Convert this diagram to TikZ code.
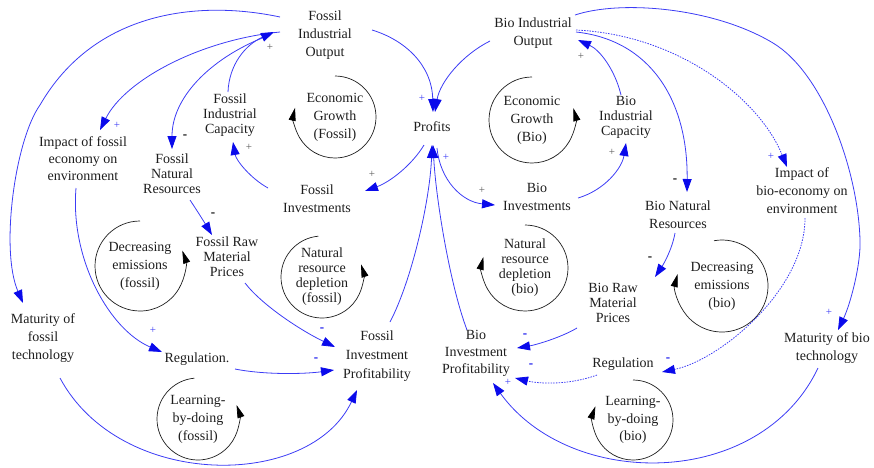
\documentclass[tikz,border=0pt]{standalone}
\usepackage{fontspec}
\setmainfont{Liberation Serif}
\usetikzlibrary{arrows.meta}
\definecolor{linkblue}{RGB}{60,60,245}
\definecolor{tipblue}{RGB}{10,10,235}
\definecolor{ink}{RGB}{30,30,30}
\definecolor{signgray}{RGB}{90,90,90}
\begin{document}
\begin{tikzpicture}[x=1pt,y=1pt,
  lbl/.style={align=center, inner sep=0pt, text=ink, font=\fontsize{14}{18}\selectfont},
  lblt/.style={align=center, inner sep=0pt, text=ink, font=\fontsize{14}{15}\selectfont},
  link/.style={draw=linkblue, line width=0.8pt, -{Triangle[length=13pt,width=9pt,color=tipblue]}},
  dotlink/.style={link, dash pattern=on 1.5pt off 1.2pt},
  loopline/.style={draw=ink, line width=0.7pt, -{Triangle[length=13pt,width=7pt,color=black]}},
  plusb/.style={text=linkblue, font=\fontsize{11}{11}\selectfont, inner sep=0pt},
  plusg/.style={text=signgray, font=\fontsize{11}{11}\selectfont, inner sep=0pt},
  minusk/.style={text=black, font=\bfseries\fontsize{13}{13}\selectfont, inner sep=0pt},
  minusb/.style={text=tipblue, font=\bfseries\fontsize{13}{13}\selectfont, inner sep=0pt}]
\useasboundingbox (0,0) rectangle (874,-467);

% ---- variables ----
\node[lbl]  (FIO) at (325,-35)  {Fossil\\Industrial\\Output};
\node[lbl]  (BIO) at (533,-33)  {Bio Industrial\\Output};
\node[lbl]  (PRO) at (432,-127) {Profits};
\node[lblt] (FIC) at (230,-115) {Fossil\\Industrial\\Capacity};
\node[lblt] (BIC) at (626,-117) {Bio\\Industrial\\Capacity};
\node[lbl,font=\fontsize{14}{17}\selectfont] (IFE) at (83,-159) {Impact of fossil\\economy on\\environment};
\node[lblt] (FNR) at (172,-174) {Fossil\\Natural\\Resources};
\node[lbl]  (FIN) at (317,-199) {Fossil\\Investments};
\node[lbl]  (BIN) at (537,-197) {Bio\\Investments};
\node[lbl]  (BNR) at (678,-215) {Bio Natural\\Resources};
\node[lbl]  (IBE) at (802,-191) {Impact of\\bio-economy on\\environment};
\node[lblt] (FRP) at (227,-257) {Fossil Raw\\Material\\Prices};
\node[lblt] (BRP) at (613,-303) {Bio Raw\\Material\\Prices};
\node[lbl]  (MFT) at (43,-338)  {Maturity of\\fossil\\technology};
\node[lbl]  (MBT) at (827,-348) {Maturity of bio\\technology};
\node[lbl]  (REF) at (197,-359) {Regulation.};
\node[lbl]  (REB) at (623,-364) {Regulation};
\node[lbl,font=\fontsize{14}{19}\selectfont] (FIP) at (377,-356) {Fossil\\Investment\\Profitability};
\node[lbl,font=\fontsize{14}{17}\selectfont] (BIP) at (476,-353) {Bio\\Investment\\Profitability};

% ---- loop labels ----
\node[lbl]  (EGF) at (335,-117) {Economic\\Growth\\(Fossil)};
\node[lbl]  (EGB) at (532,-120) {Economic\\Growth\\(Bio)};
\node[lbl]  (DEF) at (140,-266) {Decreasing\\emissions\\(fossil)};
\node[lblt] (NDF) at (322,-277) {Natural\\resource\\depletion\\(fossil)};
\node[lblt] (NDB) at (525,-268) {Natural\\resource\\depletion\\(bio)};
\node[lbl]  (DEB) at (722,-286) {Decreasing\\emissions\\(bio)};
\node[lbl]  (LDF) at (198,-419) {Learning-\\by-doing\\(fossil)};
\node[lbl,font=\fontsize{14}{17.5}\selectfont] (LDB) at (633,-420) {Learning-\\by-doing\\(bio)};

% ---- loop arrows ----
\draw[loopline] ([shift={(90:41pt)}]EGF.center) arc[start angle=90,end angle=-193,radius=41pt];
\draw[loopline] ([shift={(90:43pt)}]EGB.center) arc[start angle=90,end angle=376,radius=43pt];
\draw[loopline] ([shift={(90:45pt)}]DEF.center) arc[start angle=90,end angle=380,radius=45pt];
\draw[loopline] ([shift={(95:41pt)}]NDF.center) arc[start angle=95,end angle=378,radius=41pt];
\draw[loopline] ([shift={(90:43pt)}]NDB.center) arc[start angle=90,end angle=-195,radius=43pt];
\draw[loopline] ([shift={(100:46pt)}]DEB.center) arc[start angle=100,end angle=-195,radius=46pt];
\draw[loopline] ([shift={(95:41pt)}]LDF.center) arc[start angle=95,end angle=380,radius=41pt];
\draw[loopline] ([shift={(90:40pt)}]LDB.center) arc[start angle=90,end angle=-200,radius=40pt];

% ---- links, fossil side ----
\draw[link] ([shift={(47,5)}]FIO.center) .. controls (405,-40) and (432,-65) .. ([shift={(1,15)}]PRO.center);
\draw[link] ([shift={(-45,18)}]FIO.center) .. controls (200,0) and (95,-10) .. (40,-105)
            .. controls (15,-140) and (0,-250) .. ([shift={(-20,35)}]MFT.center);
\draw[link] ([shift={(-45,3)}]FIO.center) .. controls (200,-40) and (125,-80) .. ([shift={(17,29)}]IFE.center);
\draw[link] ([shift={(-55,0)}]FIO.center) .. controls (215,-55) and (172,-95) .. ([shift={(0,25)}]FNR.center);
\draw[link] ([shift={(-2,23)}]FIC.center) .. controls (229,-65) and (245,-45) .. ([shift={(-51,3)}]FIO.center);
\draw[link] ([shift={(-49,11)}]FIN.center) .. controls (250,-178) and (236,-160) .. ([shift={(3,-27)}]FIC.center);
\draw[link] ([shift={(-8,-18)}]PRO.center) .. controls (412,-165) and (390,-182) .. ([shift={(48,8)}]FIN.center);
\draw[link] ([shift={(13,34)}]FIP.center) .. controls (412,-280) and (430,-200) .. ([shift={(0,-18)}]PRO.center);
\draw[link] ([shift={(-7,-29)}]IFE.center) .. controls (70,-260) and (110,-330) .. ([shift={(-35,7)}]REF.center);
\draw[link] ([shift={(18,-26)}]FNR.center) .. controls (198,-212) and (206,-225) .. ([shift={(-15,22)}]FRP.center);
\draw[link] ([shift={(18,-26)}]FRP.center) .. controls (262,-305) and (300,-330) .. ([shift={(-42,9)}]FIP.center);
\draw[link] ([shift={(38,-10)}]REF.center) .. controls (265,-375) and (305,-374) .. ([shift={(-43,-14)}]FIP.center);
\draw[link] ([shift={(17,-40)}]MFT.center) .. controls (120,-490) and (310,-490) .. ([shift={(-20,-34)}]FIP.center);

% ---- links, bio side ----
\draw[link] ([shift={(-43,-8)}]BIO.center) .. controls (462,-55) and (440,-82) .. ([shift={(3,15)}]PRO.center);
\draw[link] ([shift={(5,-21)}]PRO.center) .. controls (440,-180) and (462,-202) .. ([shift={(-42,-8)}]BIN.center);
\draw[link] ([shift={(-9,23)}]BIP.center) .. controls (450,-285) and (436,-200) .. ([shift={(1,-18)}]PRO.center);
\draw[link] ([shift={(41,-1)}]BIN.center) .. controls (605,-190) and (622,-168) .. ([shift={(0,-26)}]BIC.center);
\draw[link] ([shift={(-5,22)}]BIC.center) .. controls (615,-70) and (600,-50) .. ([shift={(45,-7)}]BIO.center);
\draw[link] ([shift={(43,1)}]BIO.center) .. controls (650,-40) and (688,-100) .. ([shift={(9,23)}]BNR.center);
\draw[dotlink] ([shift={(43,3)}]BIO.center) .. controls (680,-35) and (760,-100) .. ([shift={(-15,24)}]IBE.center);
\draw[link] ([shift={(42,18)}]BIO.center) .. controls (620,0) and (713,-7) .. (773,-43)
            .. controls (823,-73) and (858,-170) .. (860,-240)
            .. controls (861,-265) and (850,-305) .. ([shift={(11,18)}]MBT.center);
\draw[link] ([shift={(-3,-18)}]BNR.center) .. controls (672,-250) and (663,-265) .. ([shift={(42,26)}]BRP.center);
\draw[link] ([shift={(-36,-25)}]BRP.center) .. controls (560,-338) and (535,-345) .. ([shift={(41,5)}]BIP.center);
\draw[dotlink] ([shift={(3,-27)}]IBE.center) .. controls (805,-290) and (720,-360) .. ([shift={(39,-8)}]REB.center);
\draw[dotlink] ([shift={(-26,-11)}]REB.center) .. controls (570,-385) and (540,-384) .. ([shift={(39,-25)}]BIP.center);
\draw[link] ([shift={(-9,-20)}]MBT.center) .. controls (760,-490) and (570,-490) .. ([shift={(17,-30)}]BIP.center);

% ---- polarity signs ----
\node[plusb]  (s01) at (422,-98)  {+};
\node[plusb]  (s02) at (446,-157) {+};
\node[plusg]  (s03) at (270,-47)  {+};
\node[plusb]  (s04) at (117,-125) {+};
\node[minusk] (s05) at (185,-137) {-};
\node[plusg]  (s06) at (249,-147) {+};
\node[minusk] (s07) at (213,-215) {-};
\node[plusg]  (s08) at (372,-174) {+};
\node[plusg]  (s09) at (482,-190) {+};
\node[plusg]  (s10) at (612,-152) {+};
\node[plusg]  (s11) at (581,-56)  {+};
\node[minusk] (s12) at (675,-181) {-};
\node[plusb]  (s13) at (771,-156) {+};
\node[plusb]  (s14) at (829,-312) {+};
\node[minusk] (s15) at (650,-259) {-};
\node[minusb] (s16) at (525,-336) {-};
\node[minusb] (s17) at (531,-366) {-};
\node[plusb]  (s18) at (508,-382) {+};
\node[minusb] (s19) at (668,-360) {-};
\node[plusb]  (s20) at (153,-330) {+};
\node[minusb] (s21) at (322,-330) {-};
\node[minusb] (s22) at (316,-360) {-};
\end{tikzpicture}
\end{document}
